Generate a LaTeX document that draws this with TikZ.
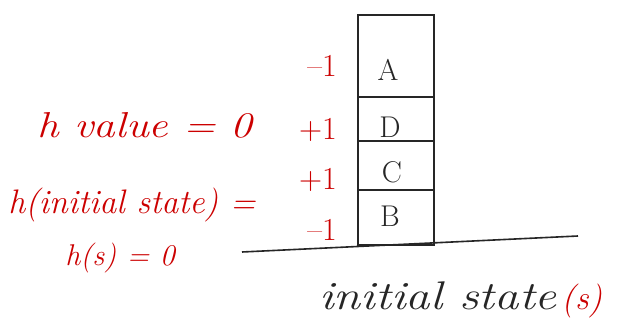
\documentclass[tikz,border=0pt]{standalone}
\usepackage{fontspec}
\begin{document}
\begin{tikzpicture}[x=1pt,y=-1pt,
  ink/.style={draw=black!85, line width=1.6pt},
  redtxt/.style={text=red!80!black, font=\fontsize{32}{34}\selectfont, inner sep=0pt},
  bigred/.style={text=red!80!black, font=\fontsize{36}{38}\selectfont\itshape\addfontfeatures{LetterSpace=14}, inner sep=0pt},
  midred/.style={text=red!80!black, font=\fontsize{34}{36}\selectfont\itshape\addfontfeatures{LetterSpace=8}, inner sep=0pt},
  smallred/.style={text=red!80!black, font=\fontsize{30}{32}\selectfont\itshape\addfontfeatures{LetterSpace=6}, inner sep=0pt},
  blktxt/.style={text=black!85, font=\fontsize{40}{42}\selectfont\itshape\addfontfeatures{LetterSpace=24}, inner sep=0pt},
  letter/.style={text=black!85, font=\fontsize{30}{32}\selectfont, inner sep=0pt}]
\useasboundingbox (0,0) rectangle (644,331);
\fill[white] (0,0) rectangle (644,331);
% stack cells
\draw[ink] (358,15) rectangle (434,97);
\draw[ink] (358,97) rectangle (434,141);
\draw[ink] (358,141) rectangle (434,190);
\draw[ink] (358,190) rectangle (434,245);
% ground
\coordinate (g1) at (242,252);
\coordinate (g2) at (578,236);
\draw[ink] (g1) -- (g2);
% letters
\node[letter] (A) at (388,70) {A};
\node[letter] (D) at (390,127) {D};
\node[letter] (C) at (392,172) {C};
\node[letter] (B) at (390,216) {B};
% red values
\node[redtxt] (vA) at (322,66) {--1};
\node[redtxt] (vD) at (318,130) {+1};
\node[redtxt] (vC) at (318,180) {+1};
\node[redtxt] (vB) at (322,230) {--1};
% left texts
\node[bigred, xscale=1.2, transform shape] (hv) at (145,125) {h value = 0};
\node[midred] (hi) at (132,205) {h(initial state) =};
\node[smallred] (hs) at (120,258) {h(s) = 0};
% caption
\node[blktxt, xscale=1.22, transform shape] (cap) at (438,296) {initial state};
\node[text=red!80!black, font=\fontsize{34}{36}\selectfont\itshape, inner sep=0pt, anchor=base west] (s) at ([xshift=4pt]cap.base east) {(s)};
\end{tikzpicture}
\end{document}
